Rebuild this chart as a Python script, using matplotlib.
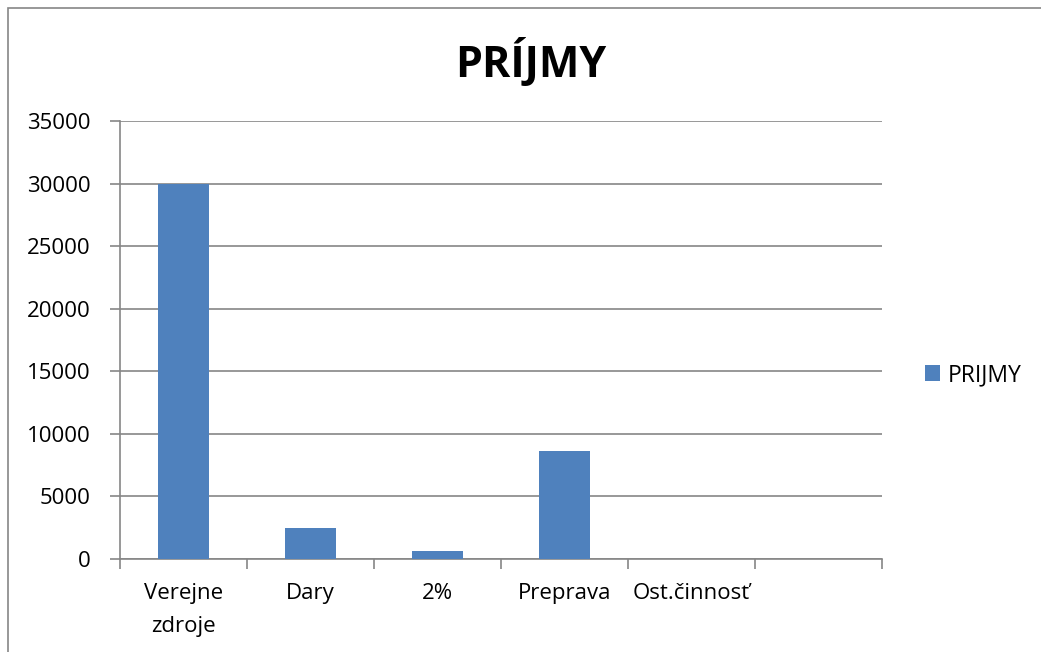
import matplotlib.pyplot as plt
import numpy as np
from matplotlib.patches import Rectangle

categories = ["Verejne\nzdroje", "Dary", "2%", "Preprava", "Ost.činnosť", ""]
values = [30000, 2500, 650, 8650, 0, 0]
series_name = "PRIJMY"
title = "PRÍJMY"
y_ticks = [0, 5000, 10000, 15000, 20000, 25000, 30000, 35000]

bar_color = "#4F81BD"
grid_color = "#868686"

plt.rcParams['font.family'] = ['Open Sans', 'DejaVu Sans']

fig = plt.figure(figsize=(10.41, 6.52), dpi=100)
# chart frame, cut by the right and bottom edge like the screenshot
fig.patches.append(Rectangle((8 / 1041, -0.1), 1.2, (652 - 8) / 652 + 0.1,
                             transform=fig.transFigure, fill=False,
                             edgecolor=grid_color, linewidth=1.2))

ax = fig.add_axes([120 / 1041, 93 / 652, 762 / 1041, 438 / 652])
x = np.arange(len(categories))
ax.bar(x, values, width=0.4, color=bar_color, label=series_name, zorder=3)

ax.set_xlim(-0.5, len(categories) - 0.5)
ax.set_ylim(0, 35000)
ax.set_yticks(y_ticks)
ax.set_yticklabels([str(v) for v in y_ticks], fontsize=16)
ax.yaxis.grid(True, color=grid_color, linewidth=1.2, zorder=0)

# category labels at centres, tick marks at the slot boundaries
ax.set_xticks(x)
ax.set_xticklabels(categories, fontsize=16, linespacing=1.75, va="top")
ax.set_xticks(np.arange(-0.5, len(categories)), minor=True)
ax.tick_params(axis="x", which="major", length=0, pad=17)
ax.tick_params(axis="x", which="minor", length=7, width=1.2, color=grid_color)
ax.tick_params(axis="y", length=7, width=1.2, color=grid_color, pad=14)

for side in ["top", "right"]:
    ax.spines[side].set_visible(False)
for side in ["left", "bottom"]:
    ax.spines[side].set_color(grid_color)
    ax.spines[side].set_linewidth(1.2)

fig.text(531 / 1041, 1 - 62 / 652, title, ha="center", va="center",
         fontsize=31, fontweight="bold")

fig.legend(loc="center left", bbox_to_anchor=(904 / 1041, 1 - 375 / 652),
           frameon=False, fontsize=16.5, handlelength=0.65, handleheight=0.65,
           handletextpad=0.35)

fig.savefig("out.png", dpi=100)
